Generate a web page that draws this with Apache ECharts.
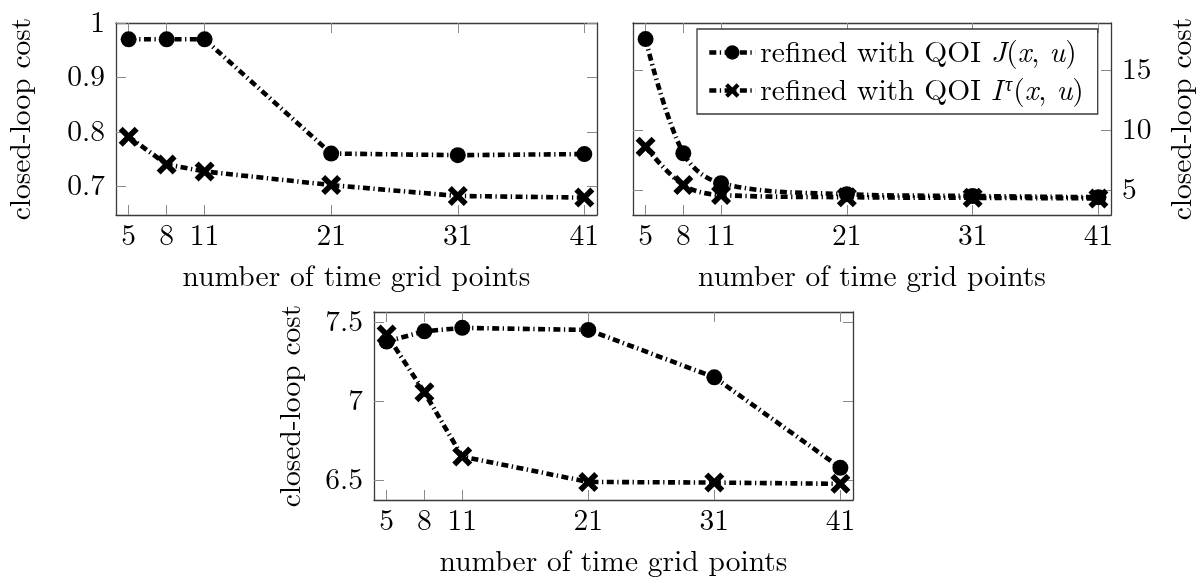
<!DOCTYPE html>
<html>
<head>
<meta charset="utf-8">
<script src="https://cdn.jsdelivr.net/npm/echarts@6/dist/echarts.min.js"></script>
<style>
  html, body { margin: 0; padding: 0; background: #fff; }
  #chart { width: 1198px; height: 578px; }
</style>
</head>
<body>
<div id="chart"></div>
<script>
// ---- data ----
const xTicks = [5, 8, 11, 21, 31, 41];
const gridPoints = [5, 8, 11, 21, 31, 41];

const p1J = [0.970, 0.970, 0.970, 0.760, 0.757, 0.759];
const p1I = [0.791, 0.740, 0.727, 0.702, 0.682, 0.679];
const p1YTicks = [0.7, 0.8, 0.9, 1];

const p2J = [17.56, 8.06, 5.56, 4.65, 4.50, 4.40];
const p2I = [8.60, 5.42, 4.58, 4.40, 4.35, 4.30];
const p2YTicks = [5, 10, 15];

const p3J = [7.376, 7.440, 7.462, 7.449, 7.150, 6.579];
const p3I = [7.420, 7.055, 6.650, 6.490, 6.486, 6.478];
const p3YTicks = [6.5, 7, 7.5];

const nameJ = 'refined with QOI J(x, u)';
const nameI = 'refined with QOI Iτ(x, u)';
const xName = 'number of time grid points';
const yName = 'closed-loop cost';

// ---- style ----
const FONT = '"Latin Modern Roman", "CMU Serif", "Liberation Serif", serif';
const FS = 29.5;
const frameColor = '#3a3a3a';
const tickColor = '#8a8a8a';
const crossPath = 'path://M0,2L2,0L5,3L8,0L10,2L7,5L10,8L8,10L5,7L2,10L0,8L3,5Z';

const grids = [
  { left: 116, top: 23, width: 481, height: 192 },
  { left: 633, top: 23, width: 481, height: 192 },
  { left: 374, top: 312, width: 479, height: 191 }
];
const yRanges = [[0.647, 1.0], [2.92, 18.9], [6.376, 7.562]];
const yTicksList = [p1YTicks, p2YTicks, p3YTicks];
const yLabelSide = ['left', 'right', 'left'];
const yNameGap = [80, 56, 68];

const xAxes = [], yAxes = [], series = [];
const lineDash = [7, 3.5, 1.3, 3.5];
const LW = 4.6;

grids.forEach((g, gi) => {
  const base = {
    type: 'value', gridIndex: gi, min: 4, max: 42,
    axisLine: { show: true, onZero: false, lineStyle: { color: frameColor, width: 1.3 } },
    axisTick: { show: true, inside: true, length: 10, customValues: xTicks, lineStyle: { color: tickColor, width: 1 } },
    splitLine: { show: false }
  };
  xAxes.push(Object.assign({}, base, {
    position: 'bottom',
    name: xName, nameLocation: 'middle', nameGap: 47,
    nameTextStyle: { fontFamily: FONT, fontSize: FS, color: '#000' },
    axisLabel: { show: true, customValues: xTicks, margin: 6, fontFamily: FONT, fontSize: FS, color: '#000' }
  }));
  xAxes.push(Object.assign({}, base, { position: 'top', axisLabel: { show: false } }));

  const ybase = {
    type: 'value', gridIndex: gi, min: yRanges[gi][0], max: yRanges[gi][1],
    axisLine: { show: true, onZero: false, lineStyle: { color: frameColor, width: 1.3 } },
    axisTick: { show: true, inside: true, length: 10, customValues: yTicksList[gi], lineStyle: { color: tickColor, width: 1 } },
    splitLine: { show: false }
  };
  const other = yLabelSide[gi] === 'left' ? 'right' : 'left';
  yAxes.push(Object.assign({}, ybase, {
    position: yLabelSide[gi],
    name: yName, nameLocation: 'middle', nameGap: yNameGap[gi], nameRotate: 90,
    nameTextStyle: { fontFamily: FONT, fontSize: FS, color: '#000' },
    axisLabel: { show: true, customValues: yTicksList[gi], margin: 11, fontFamily: FONT, fontSize: FS, color: '#000' }
  }));
  yAxes.push(Object.assign({}, ybase, { position: other, axisLabel: { show: false } }));
});

const datasets = [[p1J, p1I], [p2J, p2I], [p3J, p3I]];
datasets.forEach((pair, gi) => {
  const smooth = gi === 1 ? 0.35 : false;
  series.push({
    name: nameJ, type: 'line', xAxisIndex: gi * 2, yAxisIndex: gi * 2,
    data: gridPoints.map((x, i) => [x, pair[0][i]]),
    smooth: smooth,
    symbol: 'circle', symbolSize: 16,
    itemStyle: { color: '#000' },
    lineStyle: { color: '#000', width: LW, type: lineDash, cap: 'butt' },
    animation: false, z: 3
  });
  series.push({
    name: nameI, type: 'line', xAxisIndex: gi * 2, yAxisIndex: gi * 2,
    data: gridPoints.map((x, i) => [x, pair[1][i]]),
    smooth: smooth,
    symbol: crossPath, symbolSize: 20,
    itemStyle: { color: '#000' },
    lineStyle: { color: '#000', width: LW, type: lineDash, cap: 'butt' },
    animation: false, z: 4
  });
});

const option = {
  animation: false,
  backgroundColor: '#fff',
  grid: grids.map(g => Object.assign({ containLabel: false }, g)),
  xAxis: xAxes,
  yAxis: yAxes,
  legend: {
    data: [nameJ, nameI],
    orient: 'vertical',
    left: 697, top: 29,
    padding: [8, 14, 8, 10],
    itemGap: 7,
    itemWidth: 46, itemHeight: 18,
    borderColor: frameColor, borderWidth: 1.3, borderRadius: 0,
    backgroundColor: '#fff',
    lineStyle: { width: LW, type: lineDash, color: '#000', cap: 'butt' },
    formatter: function (n) {
      if (n === nameJ) return '{t|refined with QOI }{m|J}{t|(}{m|x}{t|, }{m|u}{t|)}';
      return '{t|refined with QOI }{m|I}{s|τ}{t|(}{m|x}{t|, }{m|u}{t|)}';
    },
    textStyle: {
      fontFamily: FONT, fontSize: FS, color: '#000', lineHeight: 31,
      rich: {
        t: { fontFamily: FONT, fontSize: FS, color: '#000', lineHeight: 31 },
        m: { fontFamily: FONT, fontSize: FS, fontStyle: 'italic', color: '#000', lineHeight: 31 },
        s: { fontFamily: FONT, fontSize: 20, fontStyle: 'italic', color: '#000', lineHeight: 31, verticalAlign: 'top', padding: [0, 1, 10, 3] }
      }
    }
  },
  series: series
};

const chart = echarts.init(document.getElementById('chart'), null, { renderer: 'canvas' });
chart.setOption(option);
</script>
</body>
</html>
